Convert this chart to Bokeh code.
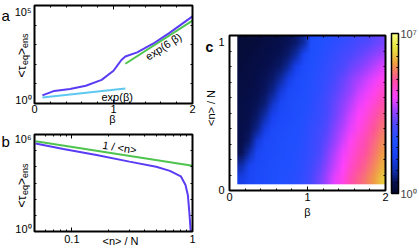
import zlib
import struct
import base64
import numpy as np
from bokeh.plotting import figure
from bokeh.models import (Label, FixedTicker, LinearAxis, LogAxis, ColorBar, LinearColorMapper,
                          CustomJSTickFormatter, Range1d)
from bokeh.layouts import row, column
from bokeh.embed import file_html
from bokeh.resources import INLINE

FONT = "Liberation Sans"
PURPLE = "#5a3cf5"
GREEN = "#4ec44e"
CYAN = "#5ec8f0"

# ---------------- data: panel a ----------------
beta_a = [0.1, 0.25, 0.45, 0.65, 0.85, 1.0, 1.05, 1.1, 1.15, 1.3, 1.5, 1.7, 2.0]
tau_a = [2.6, 4.4, 5.5, 8.1, 16, 47, 89, 166, 251, 407, 1120, 3800, 28000]
beta_exp1 = [0.1, 1.15]
tau_exp1 = [2.0, 5.9]
beta_exp6 = [1.15, 2.0]
tau_exp6 = [107, 17000]
a_xticks = [0, 1, 2]
a_yticks = [1, 1e5]

# ---------------- data: panel b ----------------
nN_b = [0.05, 0.085, 0.16, 0.3, 0.5, 0.65, 0.8, 0.875, 0.915, 0.94, 0.962, 0.966]
tau_b = [2.8e5, 1.26e5, 5.4e4, 2.1e4, 1.0e4, 5.6e3, 2.6e3, 760, 182, 17.8, 1.6, 1.0]
nN_inv = [0.05, 1.0]
tau_inv = [3.8e5, 1.17e4]
b_xrange = [0.049, 1]
b_xticks = [0.1, 1]
b_yticks = [1, 1e6]

# ---------------- data: panel c (log10 <tau>, rows top -> bottom) ----------------
beta_c_span = [0.1, 2.0]
nN_c_span = [0.04, 1.0]
logtau_c_top_to_bottom = [
    [0.2, 0.2, 0.25, 0.3, 0.35, 0.4, 0.5, 0.6, 0.9, 2.2, 2.3, 2.4, 2.5, 2.6, 2.75, 2.9, 3.0, 3.15, 3.3],
    [0.2, 0.25, 0.3, 0.35, 0.4, 0.5, 0.6, 0.9, 1.8, 2.25, 2.35, 2.5, 2.65, 2.85, 3.0, 3.15, 3.3, 3.45, 3.65],
    [0.25, 0.3, 0.35, 0.4, 0.5, 0.6, 0.9, 1.6, 2.15, 2.3, 2.45, 2.6, 2.8, 3.0, 3.2, 3.4, 3.6, 3.8, 4.0],
    [0.3, 0.3, 0.4, 0.5, 0.6, 0.9, 1.5, 2.05, 2.2, 2.35, 2.5, 2.7, 2.95, 3.2, 3.45, 3.7, 3.9, 4.1, 4.35],
    [0.3, 0.35, 0.45, 0.55, 0.8, 1.4, 2.0, 2.15, 2.25, 2.4, 2.55, 2.8, 3.1, 3.35, 3.6, 3.9, 4.1, 4.35, 4.6],
    [0.35, 0.4, 0.5, 0.7, 1.2, 1.9, 2.1, 2.2, 2.3, 2.45, 2.65, 2.9, 3.2, 3.5, 3.8, 4.1, 4.3, 4.55, 4.85],
    [0.35, 0.45, 0.6, 1.0, 1.7, 2.05, 2.15, 2.25, 2.35, 2.5, 2.7, 3.0, 3.3, 3.65, 3.95, 4.25, 4.5, 4.8, 5.1],
    [0.4, 0.5, 0.8, 1.5, 2.0, 2.15, 2.2, 2.3, 2.4, 2.6, 2.8, 3.1, 3.45, 3.8, 4.1, 4.4, 4.7, 5.0, 5.3],
    [0.4, 0.6, 1.4, 2.0, 2.1, 2.2, 2.25, 2.3, 2.45, 2.65, 2.9, 3.25, 3.6, 3.95, 4.3, 4.6, 4.85, 5.15, 5.5],
    [0.5, 1.0, 1.9, 2.05, 2.15, 2.2, 2.3, 2.35, 2.5, 2.7, 3.0, 3.4, 3.8, 4.15, 4.45, 4.75, 5.0, 5.3, 5.65],
    [1.0, 1.8, 2.0, 2.1, 2.2, 2.25, 2.3, 2.4, 2.55, 2.8, 3.15, 3.55, 3.9, 4.25, 4.6, 4.9, 5.15, 5.45, 5.85],
    [1.5, 1.9, 2.05, 2.15, 2.2, 2.3, 2.35, 2.45, 2.6, 2.9, 3.3, 3.7, 4.1, 4.4, 4.8, 5.1, 5.35, 5.65, 6.1],
]
c_xticks = [0, 1, 2]
c_yticks = [0, 1]
cbar_range = [0, 7]
cbar_ticks = [0, 7]
cbar_labels = ["10\u2070", "10\u2077"]

# ---------------- palette (gnuplot-like) ----------------
stops = [(0.0, "#050a2a"), (0.45, "#07104e"), (1.0, "#1030b0"), (1.6, "#1840f0"),
         (2.3, "#2050ff"), (3.05, "#5048ff"), (3.65, "#a040ff"), (4.23, "#ff40ff"),
         (4.96, "#ff50a0"), (5.7, "#f0a040"), (6.4, "#e8e840"), (7.0, "#f8ff80")]


def _rgb(h):
    return [int(h[i:i + 2], 16) for i in (1, 3, 5)]


palette = []
for i in range(256):
    L = 7.0 * i / 255
    for (l0, c0), (l1, c1) in zip(stops[:-1], stops[1:]):
        if l0 <= L <= l1:
            t = (L - l0) / (l1 - l0)
            a, b = _rgb(c0), _rgb(c1)
            palette.append("#%02x%02x%02x" % tuple(int(round(a[k] + (b[k] - a[k]) * t)) for k in range(3)))
            break
mapper = LinearColorMapper(palette=palette, low=cbar_range[0], high=cbar_range[1])


def grid_png_url(rows):
    """Colour-map the grid with the same palette and encode it as a tiny PNG (one pixel per cell)."""
    h, w = len(rows), len(rows[0])
    raw = b""
    for r in rows:
        line = b"\x00"
        for v in r:
            idx = int(round((v - cbar_range[0]) / (cbar_range[1] - cbar_range[0]) * 255))
            line += bytes(_rgb(palette[max(0, min(255, idx))]))
        raw += line

    def chunk(tag, data):
        return struct.pack(">I", len(data)) + tag + data + struct.pack(">I", zlib.crc32(tag + data) & 0xffffffff)

    png = (b"\x89PNG\r\n\x1a\n" + chunk(b"IHDR", struct.pack(">IIBBBBB", w, h, 8, 2, 0, 0, 0))
           + chunk(b"IDAT", zlib.compress(raw)) + chunk(b"IEND", b""))
    return "data:image/png;base64," + base64.b64encode(png).decode()


# ---------------- helpers ----------------
def make_fig(w, h, canvas_tl, box, xdata, ydata, xlog=False, ylog=False):
    """Figure whose frame fills the canvas; 'box' (page px) is where the data box sits."""
    cx0, cy0 = canvas_tl
    bx0, by0, bx1, by1 = box
    tf = lambda v, lg: np.log10(v) if lg else v
    itf = lambda v, lg: float(10 ** v) if lg else float(v)
    tx0, tx1 = tf(xdata[0], xlog), tf(xdata[1], xlog)
    ty0, ty1 = tf(ydata[0], ylog), tf(ydata[1], ylog)
    kx = (tx1 - tx0) / (bx1 - bx0)
    ky = (ty1 - ty0) / (by1 - by0)
    xr = Range1d(itf(tx0 - (bx0 - cx0) * kx, xlog), itf(tx1 + (cx0 + w - bx1) * kx, xlog))
    yr = Range1d(itf(ty0 - (cy0 + h - by1) * ky, ylog), itf(ty1 + (by0 - cy0) * ky, ylog))
    p = figure(width=w, height=h, x_range=xr, y_range=yr,
               x_axis_type="log" if xlog else "linear", y_axis_type="log" if ylog else "linear",
               output_backend="svg", toolbar_location=None,
               min_border=0, min_border_left=0, min_border_right=0, min_border_top=0, min_border_bottom=0)
    p.outline_line_color = None
    p.grid.visible = False
    p.background_fill_color = "white"
    p.border_fill_color = "white"

    def conv(px, py):
        return itf(tx0 + (px - bx0) * kx, xlog), itf(ty0 + (by1 - py) * ky, ylog)

    return p, conv


def add_text(p, x, y, text, size=11, angle=0.0, align="center", baseline="middle", style="normal"):
    p.add_layout(Label(x=x, y=y, text=text, text_font=FONT, text_font_size=f"{size}px",
                       text_align=align, text_baseline=baseline, angle=angle,
                       text_font_style=style, text_color="black"))


def style_axis(ax, major, minor, fixed, show_labels=True, standoff=1):
    ax.fixed_location = fixed
    ax.ticker = FixedTicker(ticks=major, minor_ticks=minor)
    ax.major_tick_in = 4
    ax.major_tick_out = 0
    ax.minor_tick_in = 2
    ax.minor_tick_out = 0
    ax.major_tick_line_color = "black"
    ax.minor_tick_line_color = "black"
    ax.axis_line_color = None
    ax.major_label_text_font = FONT
    ax.major_label_text_font_size = "11px"
    ax.major_label_text_color = "black"
    if show_labels:
        ax.major_label_standoff = standoff
    else:
        ax.formatter = CustomJSTickFormatter(code="return ''")
        ax.major_label_standoff = 0


def frame_box(p, xt, yt):
    p.quad(left=[xt[0]], right=[xt[-1]], bottom=[yt[0]], top=[yt[-1]],
           fill_color=None, line_color="black", line_width=2)


def tau_title(p, conv, px, py_start):
    pieces = [("<\u03c4", 12, 0.0, 12.6), ("eq", 9, 3.0, 10.0), (">", 12, 0.0, 7.0), ("ens", 9, 3.0, 14.5)]
    py = py_start
    for text, size, dx, w in pieces:
        x, y = conv(px + dx, py)
        add_text(p, x, y, text, size, angle=np.pi / 2, align="left", baseline="middle")
        py -= w


# ---------------- panel a ----------------
pa, a_pos = make_fig(198, 125, (0, 0), (34, 5, 192, 103), (0, 2), (1, 1e5), ylog=True)
pa.line(beta_exp1, tau_exp1, line_color=CYAN, line_width=2)
pa.line(beta_exp6, tau_exp6, line_color=GREEN, line_width=2)
pa.line(beta_a, tau_a, line_color=PURPLE, line_width=2)
xminor = [0.2, 0.4, 0.6, 0.8, 1.2, 1.4, 1.6, 1.8]
ydec5 = [10, 100, 1000, 1e4]
style_axis(pa.xaxis[0], a_xticks, xminor, 1, True, 1)
style_axis(pa.yaxis[0], a_yticks, ydec5, 0, False)
ta = LinearAxis(); pa.add_layout(ta, "above"); style_axis(ta, a_xticks, xminor, 1e5, False)
ra = LogAxis(); pa.add_layout(ra, "right"); style_axis(ra, a_yticks, ydec5, 2, False)
frame_box(pa, a_xticks, a_yticks)

add_text(pa, *a_pos(1, 15), "a", 15, align="left", baseline="alphabetic")
add_text(pa, *a_pos(31, 11), "10\u2075", 11, align="right")
add_text(pa, *a_pos(31, 99), "10\u2070", 11, align="right")
add_text(pa, *a_pos(112, 118.5), "\u03b2", 11)
add_text(pa, *a_pos(116.7, 96.7), "exp(\u03b2)", 11)
add_text(pa, *a_pos(163, 46), "exp(6 \u03b2)", 11, angle=0.57)
tau_title(pa, a_pos, 21, 77)

# ---------------- panel b ----------------
pb, b_pos = make_fig(198, 125, (0, 125), (34, 134, 192, 231), b_xrange, (1, 1e6), xlog=True, ylog=True)
pb.line(nN_inv, tau_inv, line_color=GREEN, line_width=2)
pb.line(nN_b, tau_b, line_color=PURPLE, line_width=2)
bxminor = [0.06, 0.07, 0.08, 0.09, 0.2, 0.3, 0.4, 0.5, 0.6, 0.7, 0.8, 0.9]
ydec6 = [10, 100, 1000, 1e4, 1e5]
style_axis(pb.xaxis[0], b_xticks, bxminor, 1, True, 3)
pb.xaxis[0].formatter = CustomJSTickFormatter(code="return tick < 0.5 ? '0.1' : '1'")
style_axis(pb.yaxis[0], b_yticks, ydec6, b_xrange[0], False)
tb = LogAxis(); pb.add_layout(tb, "above"); style_axis(tb, b_xticks, bxminor, 1e6, False)
rb = LogAxis(); pb.add_layout(rb, "right"); style_axis(rb, b_yticks, ydec6, 1, False)
frame_box(pb, b_xrange, b_yticks)

add_text(pb, *b_pos(1, 141), "b", 15, align="left", baseline="alphabetic")
add_text(pb, *b_pos(31, 138.5), "10\u2076", 11, align="right")
add_text(pb, *b_pos(31, 228), "10\u2070", 11, align="right")
add_text(pb, *b_pos(120, 240), "<n> / N", 11)
add_text(pb, *b_pos(119, 147), "1 / <n>", 11, angle=-0.155)
tau_title(pb, b_pos, 21, 207)

# ---------------- panel c ----------------
pc, c_pos = make_fig(221, 250, (198, 0), (229, 35, 385, 190), (0, 2), (0, 1))
pc.image_url(url=[grid_png_url(logtau_c_top_to_bottom)], x=beta_c_span[0], y=nN_c_span[0],
             w=beta_c_span[1] - beta_c_span[0], h=nN_c_span[1] - nN_c_span[0], anchor="bottom_left")
cxminor = [0.2, 0.4, 0.6, 0.8, 1.2, 1.4, 1.6, 1.8]
cyminor = [0.1, 0.2, 0.3, 0.4, 0.5, 0.6, 0.7, 0.8, 0.9]
style_axis(pc.xaxis[0], c_xticks, cxminor, 0, True, 2)
style_axis(pc.yaxis[0], c_yticks, cyminor, 0, False)
tc = LinearAxis(); pc.add_layout(tc, "above"); style_axis(tc, c_xticks, cxminor, 1, False)
rc = LinearAxis(); pc.add_layout(rc, "right"); style_axis(rc, c_yticks, cyminor, 2, False)
frame_box(pc, c_xticks, c_yticks)

cb = ColorBar(color_mapper=mapper,
              ticker=FixedTicker(ticks=cbar_ticks, minor_ticks=[0.5, 1, 1.5, 2, 2.5, 3, 3.5, 4, 4.5, 5, 5.5, 6, 6.5]),
              major_label_overrides={t: s for t, s in zip(cbar_ticks, cbar_labels)},
              width=7, height=160, padding=0, margin=0, location=(193, 57),
              bar_line_color="black", bar_line_width=1.5,
              major_tick_line_color="black", major_tick_in=3, major_tick_out=0,
              minor_tick_line_color="black", minor_tick_in=2, minor_tick_out=0,
              label_standoff=2, major_label_text_font=FONT, major_label_text_font_size="11px",
              background_fill_color=None, border_line_color=None)
pc.add_layout(cb)

add_text(pc, *c_pos(205, 46.5), "c", 14, align="left", baseline="alphabetic", style="bold")
add_text(pc, *c_pos(224, 41.5), "1", 11, align="right")
add_text(pc, *c_pos(224, 189), "0", 11, align="right")
add_text(pc, *c_pos(307, 211), "\u03b2", 11)
add_text(pc, *c_pos(210, 107.5), "<n> / N", 11, angle=np.pi / 2)

layout = row(column(pa, pb), pc)
open("out.html", "w").write(file_html(layout, INLINE))
